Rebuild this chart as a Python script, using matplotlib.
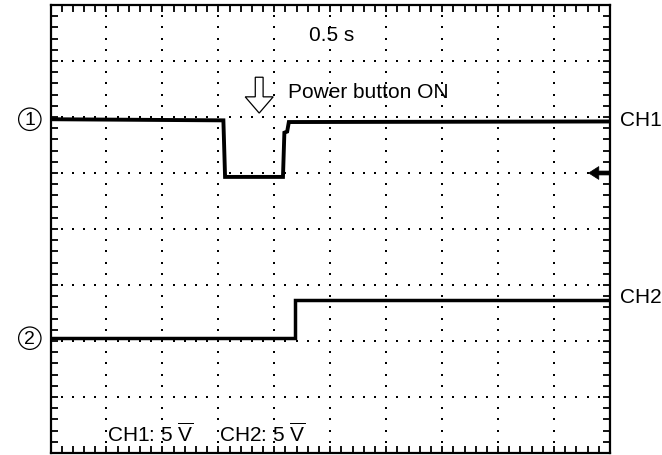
import numpy as np
import matplotlib
matplotlib.use("Agg")
import matplotlib.pyplot as plt
from matplotlib.patches import FancyArrow, Ellipse

plt.rcParams['font.family'] = ['Liberation Sans', 'DejaVu Sans']
plt.rcParams['mathtext.fontset'] = 'custom'
plt.rcParams['mathtext.rm'] = 'Liberation Sans'
plt.rcParams['mathtext.it'] = 'Liberation Sans'

# ---- data (in screen divisions: x 0..10, y 0..8) ----
ch1_t = [0.0, 3.09, 3.12, 4.155, 4.18, 4.23, 4.26, 10.0]
ch1_v = [5.96, 5.94, 4.93, 4.93, 5.72, 5.74, 5.91, 5.92]
ch2_t = [0.0, 4.37, 4.37, 10.0]
ch2_v = [2.05, 2.05, 2.74, 2.74]
ch1_marker_level = 5.96
ch2_marker_level = 2.05
trigger_level = 5.0
time_div_label = "0.5 s"
event_label = "Power button ON"
event_time = 3.73
scale_labels = ["CH1: 5 $\\overline{\\mathrm{V}}$", "CH2: 5 $\\overline{\\mathrm{V}}$"]
scale_label_x = [1.01, 3.01]

fig = plt.figure(figsize=(6.62, 4.56), dpi=100)
ax = fig.add_axes([50.5/662, 2/456, (610-50.5)/662, 448/456])
ax.set_xlim(0, 10)
ax.set_ylim(0, 8)

# dotted graticule
minor = np.arange(0, 10.001, 0.2)
minor_y = np.arange(0, 8.001, 0.2)
for gx in range(1, 10):
    ax.scatter(np.full_like(minor_y, gx), minor_y, s=2.4, marker='s', color='black', linewidths=0, zorder=1)
for gy in range(1, 8):
    ax.scatter(minor, np.full_like(minor, gy), s=2.4, marker='s', color='black', linewidths=0, zorder=1)

# frame ticks
ax.set_xticks(np.arange(0, 10.001, 0.2))
ax.set_yticks(np.arange(0, 8.001, 0.2))
ax.tick_params(axis='both', which='both', direction='in', length=5, width=1.3,
               top=True, right=True, labelbottom=False, labelleft=False, color='black')
for s in ax.spines.values():
    s.set_linewidth(1.6)

# traces
ax.plot(ch1_t, ch1_v, color='black', lw=2.8, solid_joinstyle='miter', zorder=3)
ax.plot(ch2_t, ch2_v, color='black', lw=2.5, solid_joinstyle='miter', zorder=3)

# channel markers (thin circled digits)
for lvl, digit in [(ch1_marker_level, "1"), (ch2_marker_level, "2")]:
    ax.add_patch(Ellipse((-0.37, lvl), 0.40, 0.40, facecolor='none', edgecolor='black',
                         lw=0.9, clip_on=False))
    ax.text(-0.37, lvl - 0.01, digit, fontsize=14, ha='center', va='center', clip_on=False)

ax.text(10.17, ch1_marker_level, "CH1", fontsize=15, ha='left', va='center', clip_on=False)
ax.text(10.17, 2.79, "CH2", fontsize=15, ha='left', va='center', clip_on=False)
ax.text(5.03, 7.48, time_div_label, fontsize=15, ha='center', va='center')
ax.text(4.245, 6.45, event_label, fontsize=15, ha='left', va='center')
for lbl, lx in zip(scale_labels, scale_label_x):
    ax.text(lx, 0.21, lbl, fontsize=15, ha='left', va='baseline')

# hollow event arrow
ax.add_patch(FancyArrow(event_time, 6.71, 0, -0.64, width=0.14, head_width=0.5,
                        head_length=0.29, length_includes_head=True,
                        facecolor='white', edgecolor='black', lw=0.9, zorder=4))
# trigger level marker
ax.add_patch(FancyArrow(10.0, trigger_level, -0.38, 0, width=0.07, head_width=0.23,
                        head_length=0.18, length_includes_head=True,
                        facecolor='black', edgecolor='black', lw=0.5, zorder=4, clip_on=False))

fig.savefig("out.png", dpi=100)
